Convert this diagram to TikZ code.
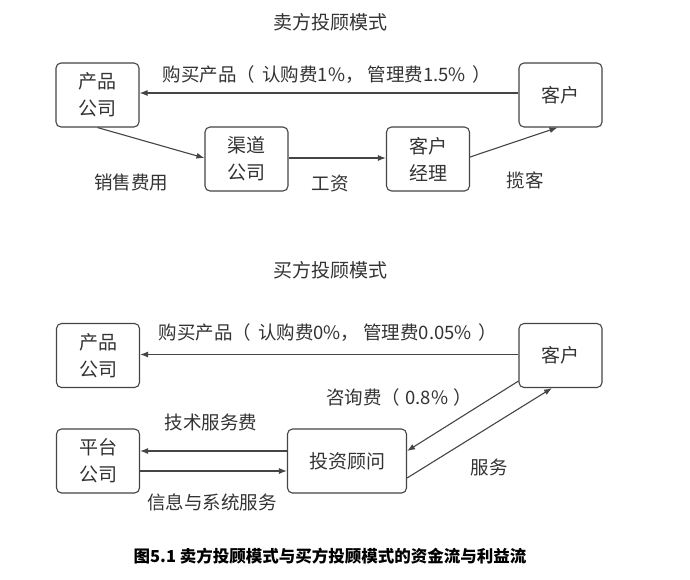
\documentclass[tikz,border=0pt]{standalone}
\usepackage{fontspec}
\setmainfont{Noto Sans CJK SC}
\usetikzlibrary{arrows.meta}
\definecolor{ink}{HTML}{333333}
\definecolor{edge}{HTML}{454545}
\tikzset{
  boxnode/.style={draw=edge, line width=1.1pt, rounded corners=5pt, minimum width=83pt, minimum height=64pt, align=center, text=ink, font=\fontsize{19}{27}\selectfont, inner sep=0pt},
  lbl/.style={text=ink, font=\fontsize{18.5}{22}\selectfont, inner sep=0pt},
  ttl/.style={text=ink, font=\fontsize{19}{22}\selectfont, inner sep=0pt},
  conn/.style={draw=edge, line width=1.1pt, -{Latex[length=8pt,width=6pt]}}
}
\begin{document}
\begin{tikzpicture}[x=1pt,y=-1pt]
\useasboundingbox[fill=white] (0,0) rectangle (690,579);
% ---- top ----
\node[ttl] (t1) at (330,22) {卖方投顾模式};
\node[boxnode] (p1) at (97.5,95) {产品\\公司};
\node[boxnode] (c1) at (560.5,95) {客户};
\node[boxnode] (q1) at (246.5,159) {渠道\\公司};
\node[boxnode] (m1) at (428,159) {客户\\经理};
\draw[conn] ([yshift=2pt]c1.west) -- ([yshift=2pt]p1.east);
\draw[conn] (p1.south) -- ([yshift=1pt]q1.west);
\draw[conn] ([yshift=1pt]q1.east) -- ([yshift=1pt]m1.west);
\draw[conn] ([yshift=2pt]m1.east) -- ([xshift=-3pt]c1.south);
\node[lbl] (l1) at (327,75) {购买产品（\hspace{7pt}认购费1\%，\hspace{4pt}管理费1.5\%\hspace{7pt}）};
\node[lbl] (l2) at (131,182) {销售费用};
\node[lbl] (l3) at (330,184) {工资};
\node[lbl] (l4) at (525,180) {揽客};
% ---- bottom ----
\node[ttl] (t2) at (330,270) {买方投顾模式};
\node[boxnode] (p2) at (98,355.5) {产品\\公司};
\node[boxnode] (c2) at (560.5,355.5) {客户};
\node[boxnode] (f2) at (98,461) {平台\\公司};
\node[boxnode, minimum width=119pt] (a2) at (347,461) {投资顾问};
\draw[conn] ([yshift=1pt]c2.west) -- ([yshift=1pt]p2.east);
\draw[conn] ([yshift=10pt]a2.west) -- ([yshift=10pt]f2.east);
\draw[conn] ([yshift=-10pt]f2.east) -- ([yshift=-10pt]a2.west);
\draw[conn] ([yshift=7pt]c2.south west) -- ([yshift=10pt]a2.east);
\draw[conn] ([yshift=-17pt]a2.east) -- ([xshift=-8.5pt]c2.south);
\node[lbl] (l5) at (328,333) {购买产品（\hspace{7pt}认购费0\%，\hspace{4pt}管理费0.05\%\hspace{7pt}）};
\node[lbl] (l6) at (399,397) {咨询费（\hspace{5pt}0.8\%\hspace{5pt}）};
\node[lbl] (l7) at (211,422) {技术服务费};
\node[lbl] (l8) at (212,502) {信息与系统服务};
\node[lbl] (l9) at (489,467) {服务};
\node[text=black, font=\fontsize{16.5}{19}\selectfont\bfseries, inner sep=0pt] (cap) at (330,556) {图5.1 卖方投顾模式与买方投顾模式的资金流与利益流};
\end{tikzpicture}
\end{document}
